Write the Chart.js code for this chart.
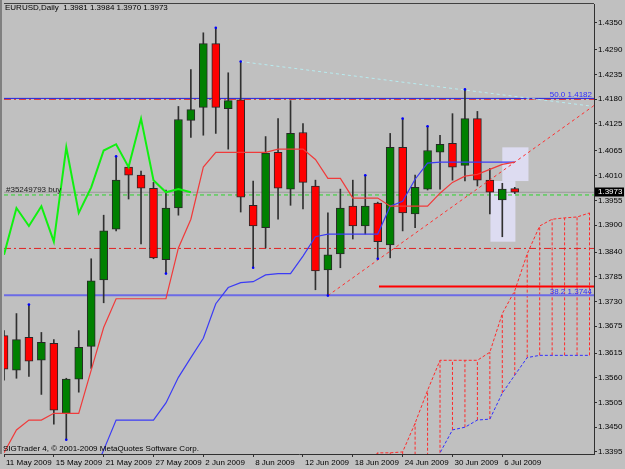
<!DOCTYPE html>
<html><head><meta charset="utf-8">
<script src="https://cdn.jsdelivr.net/npm/chart.js@4.4.0/dist/chart.umd.min.js"></script>
<style>html,body{margin:0;padding:0;background:#c0c0c0;overflow:hidden}#wrap{width:625px;height:469px;position:relative}canvas{display:block}</style>
</head><body><div id="wrap"><canvas id="c" width="625" height="469"></canvas></div>
<script>
// ---------------- DATA ----------------
const dateLabels = ['11 May 2009','15 May 2009','21 May 2009','27 May 2009','2 Jun 2009','8 Jun 2009','12 Jun 2009','18 Jun 2009','24 Jun 2009','30 Jun 2009','6 Jul 2009'];
const dateTickIndex = [0,4,8,12,16,20,24,28,32,36,40];
const priceTicks = [1.4350,1.4290,1.4235,1.4180,1.4125,1.4065,1.4010,1.3955,1.3900,1.3840,1.3785,1.3730,1.3675,1.3615,1.3560,1.3505,1.3450,1.3395];

const open  = [1.3654,1.3577,1.3650,1.3599,1.3637,1.3481,1.3557,1.3630,1.3778,1.3891,1.4029,1.4011,1.3982,1.3823,1.3938,1.4133,1.4162,1.4304,1.4159,1.4179,1.3944,1.3894,1.4062,1.3980,1.4106,1.3987,1.3800,1.3836,1.3942,1.3898,1.3949,1.3856,1.4073,1.3925,1.3980,1.4062,1.4082,1.4033,1.4137,1.4000,1.3956,1.3981];
const high  = [1.3665,1.3703,1.3723,1.3661,1.3645,1.3559,1.3665,1.3825,1.3922,1.4053,1.4030,1.4020,1.3995,1.3978,1.4164,1.4246,1.4328,1.4339,1.4239,1.4264,1.3998,1.4097,1.4137,1.4177,1.4126,1.4000,1.3927,1.3980,1.4000,1.4011,1.3951,1.4104,1.4137,1.4011,1.4120,1.4100,1.4148,1.4202,1.4153,1.4026,1.3993,1.3984];
const low   = [1.3555,1.3559,1.3563,1.3523,1.3457,1.3422,1.3528,1.3581,1.3727,1.3887,1.3958,1.3858,1.3825,1.3792,1.3922,1.4095,1.4100,1.4104,1.4069,1.3929,1.3805,1.3849,1.3913,1.3944,1.3936,1.3756,1.3743,1.3805,1.3869,1.3880,1.3825,1.3827,1.3887,1.3894,1.3978,1.3980,1.4000,1.3998,1.3987,1.3925,1.3874,1.3970];
const close = [1.3579,1.3645,1.3597,1.3639,1.3488,1.3557,1.3628,1.3776,1.3887,1.4000,1.4011,1.3982,1.3827,1.3938,1.4135,1.4157,1.4304,1.4162,1.4177,1.3962,1.3898,1.4060,1.3982,1.4104,1.3995,1.3798,1.3834,1.3938,1.3898,1.3942,1.3863,1.4073,1.3927,1.3984,1.4066,1.4080,1.4029,1.4137,1.4000,1.3973,1.3980,1.3973];

// Ichimoku lines
const tenkan = [1.3393,1.3444,1.3466,1.3466,1.3481,1.3481,1.3481,1.3577,1.3672,1.3736,1.3736,1.3736,1.3736,1.3736,1.3849,1.3913,1.4029,1.4062,1.4062,1.4062,1.4062,1.4062,1.4069,1.4069,1.4069,1.4046,1.4004,1.4004,1.3960,1.3960,1.3960,1.3942,1.3942,1.3942,1.3942,1.3971,1.3995,1.4009,1.4013,1.4024,1.4035,1.4040];
const kijunStart = 7;
const kijun = [1.3337,1.3399,1.3466,1.3466,1.3466,1.3466,1.3504,1.3561,1.3605,1.3648,1.3725,1.3761,1.3772,1.3774,1.3789,1.3792,1.3792,1.3831,1.3874,1.3880,1.3880,1.3880,1.3880,1.3880,1.3942,1.3953,1.4002,1.4038,1.4040,1.4040,1.4040,1.4040,1.4040,1.4040,1.4040];
const chikou = [1.3834,1.3938,1.3898,1.3942,1.3863,1.4073,1.3927,1.3984,1.4066,1.4080,1.4029,1.4137,1.4000,1.3973,1.3980,1.3973];
const kumoStart = 29;
const spanUpper = [1.3366,1.3393,1.3393,1.3395,1.3459,1.3532,1.3599,1.3599,1.3599,1.3599,1.3617,1.3703,1.3754,1.3836,1.3898,1.3913,1.3916,1.3918,1.3927];
const spanLower = [1.3220,1.3244,1.3266,1.3289,1.3311,1.3342,1.3393,1.3444,1.3450,1.3466,1.3468,1.3526,1.3566,1.3605,1.3610,1.3610,1.3610,1.3610,1.3610];

const fractalUp = [2,9,17,19,29,32,34,37];
const fractalDown = [5,13,20,26,30];

// horizontal levels
const fib50 = 1.4182, fib382 = 1.3744;
const redDashLevels = [1.4180, 1.3848];
const orderPrice = 1.3967, bidPrice = 1.3973;
const redLineLevel = 1.3763, redLineStart = 30.1;
// trend lines [x0,y0,x1,y1]
const trendRed = [26, 1.3743, 47.36, 1.4166];
const trendCyan = [19, 1.4264, 47.36, 1.4164];
// rectangles [x0,x1,yTop,yBottom]
const rects = [[39.05,41.05,1.3998,1.3863],[40.0,42.1,1.4073,1.3998]];

// ---------------- CHART ----------------
const FONT = "'Liberation Sans',Arial,sans-serif";
Chart.defaults.font.family = FONT;
Chart.defaults.font.size = 8;
Chart.defaults.color = '#000';

const X_MIN = 0, X_MAX = 47.36, Y_MIN = 1.33904, Y_MAX = 1.43921;
const idx = open.map((_, i) => i);
const hline = (y, x0 = X_MIN, x1 = X_MAX) => [{x:x0, y}, {x:x1, y}];

const hatch = [];
spanUpper.forEach((u, k) => {
  const i = kumoStart + k;
  hatch.push({x:i, y:spanLower[k]}, {x:i, y:u}, {x:i, y:null});
});

const datasets = [
  {type:'line', label:'fractals', order:0, showLine:false, pointRadius:1.3, pointBackgroundColor:'#0000ff', pointBorderWidth:0,
   data: fractalUp.map(i => ({x:i, y:high[i]})).concat(fractalDown.map(i => ({x:i, y:low[i]})))},
  {type:'line', label:'chikou', order:1, borderColor:'#10f010', borderWidth:2,
   data: chikou.map((v,i) => ({x:i, y:v}))},
  {type:'line', label:'tenkan', order:2, borderColor:'#f03a3a', borderWidth:1.2,
   data: tenkan.map((v,i) => ({x:i, y:v}))},
  {type:'line', label:'kijun', order:3, borderColor:'#3b3bf5', borderWidth:1.2,
   data: kijun.map((v,k) => ({x:kijunStart+k, y:v}))},
  {type:'line', label:'trendRed', order:4, borderColor:'#ff3030', borderWidth:1, borderDash:[3,3],
   data: [{x:trendRed[0], y:trendRed[1]}, {x:trendRed[2], y:trendRed[3]}]},
  {type:'line', label:'trendCyan', order:4, borderColor:'#b8ecf0', borderWidth:1, borderDash:[3,3],
   data: [{x:trendCyan[0], y:trendCyan[1]}, {x:trendCyan[2], y:trendCyan[3]}]},
  {type:'bar', label:'bodies', order:10, grouped:false, barThickness:8, borderWidth:1, borderSkipped:false,
   borderColor:'#282828', backgroundColor: idx.map(i => close[i] >= open[i] ? '#008000' : '#ff0000'),
   data: idx.map(i => ({x:i, y:[open[i], close[i]]}))},
  {type:'bar', label:'wicks', order:11, grouped:false, barThickness:1, borderWidth:0,
   backgroundColor:'#303030', data: idx.map(i => ({x:i, y:[low[i], high[i]]}))},
  {type:'line', label:'redLine', order:12, borderColor:'#ff0000', borderWidth:2, data: hline(redLineLevel, redLineStart)},
  {type:'line', label:'fib382', order:20, borderColor:'#6b6be6', borderWidth:2, data: hline(fib382)},
  {type:'line', label:'fib50', order:20, borderColor:'#2020e0', borderWidth:1, data: hline(fib50)},
  {type:'line', label:'redDash1', order:21, borderColor:'#e02020', borderWidth:1, borderDash:[7,3,2,3], data: hline(redDashLevels[0])},
  {type:'line', label:'redDash2', order:21, borderColor:'#e02020', borderWidth:1, borderDash:[7,3,2,3], data: hline(redDashLevels[1])},
  {type:'line', label:'bid', order:22, borderColor:'#9a9a9a', borderWidth:1, data: hline(bidPrice)},
  {type:'line', label:'order', order:22, borderColor:'#2ad42a', borderWidth:1, borderDash:[4,3], data: hline(orderPrice)},
  {type:'line', label:'spanUpper', order:25, borderColor:'#ff2a2a', borderWidth:1, borderDash:[3,2],
   data: spanUpper.map((v,k) => ({x:kumoStart+k, y:v}))},
  {type:'line', label:'spanLower', order:25, borderColor:'#3030ff', borderWidth:1, borderDash:[3,2],
   data: spanLower.map((v,k) => ({x:kumoStart+k, y:v}))},
  {type:'line', label:'hatch', order:26, borderColor:'#ff2a2a', borderWidth:1, borderDash:[3,2], spanGaps:false, data: hatch}
];

const overlay = {
  id:'overlay',
  beforeDraw(chart) {
    const ctx = chart.ctx;
    ctx.save(); ctx.fillStyle = '#c0c0c0'; ctx.fillRect(0,0,chart.width,chart.height); ctx.restore();
  },
  beforeDatasetsDraw(chart) {
    const {ctx, scales:{x, y}} = chart;
    ctx.save();
    ctx.fillStyle = '#dddcf1';
    rects.forEach(r => {
      const x0 = x.getPixelForValue(r[0]), x1 = x.getPixelForValue(r[1]);
      const y0 = y.getPixelForValue(r[2]), y1 = y.getPixelForValue(r[3]);
      ctx.fillRect(x0, y0, x1-x0, y1-y0);
    });
    ctx.restore();
  },
  afterDatasetsDraw(chart) {
    const {ctx, scales:{x, y}, chartArea:a} = chart;
    ctx.save();
    ctx.font = '8px ' + FONT;
    ctx.textBaseline = 'middle';
    ctx.textAlign = 'left';
    ctx.fillStyle = '#000';
    ctx.fillText('EURUSD,Daily  ' + [open[41],high[41],low[41],close[41]].map(v=>v.toFixed(4)).join(' '), 5, 8);
    ctx.fillText('SIGTrader 4, \u00a9 2001-2009 MetaQuotes Software Corp.', 3, 449);
    ctx.fillStyle = '#202020';
    ctx.fillText('#35249793 buy', 6, y.getPixelForValue(orderPrice) - 5);
    ctx.fillStyle = '#2c2cff';
    ctx.textAlign = 'right';
    ctx.textBaseline = 'alphabetic';
    ctx.fillText('50.0 ' + fib50.toFixed(4), a.right - 2, y.getPixelForValue(fib50) - 1);
    ctx.fillText('38.2 ' + fib382.toFixed(4), a.right - 2, y.getPixelForValue(fib382) - 1);
    // price box
    const py = y.getPixelForValue(bidPrice);
    ctx.fillStyle = '#000';
    ctx.fillRect(a.right + 1, Math.round(py) - 4.5, 29, 9);
    ctx.fillStyle = '#fff';
    ctx.textAlign = 'left'; ctx.textBaseline = 'middle';
    ctx.fillText(bidPrice.toFixed(4), a.right + 4, py);
    // frame
    ctx.strokeStyle = '#808080'; ctx.lineWidth = 2;
    ctx.beginPath(); ctx.moveTo(1, 0); ctx.lineTo(1, a.bottom); ctx.stroke();
    ctx.strokeStyle = '#404040'; ctx.lineWidth = 1;
    ctx.beginPath(); ctx.moveTo(a.left, a.top - 0.5); ctx.lineTo(a.right, a.top - 0.5); ctx.stroke();
    ctx.restore();
  }
};

new Chart(document.getElementById('c'), {
  type:'line',
  data:{datasets},
  plugins:[overlay],
  options:{
    responsive:false, animation:false, devicePixelRatio:1, events:[],
    layout:{padding:{left:2, top:2, right:0, bottom:0}},
    elements:{point:{radius:0}, line:{tension:0, fill:false}},
    plugins:{legend:{display:false}, tooltip:{enabled:false}},
    scales:{
      x:{type:'linear', position:'bottom', min:X_MIN, max:X_MAX, offset:false,
         grid:{drawOnChartArea:false, drawTicks:true, tickLength:3, color:'#303030', offset:false},
         border:{display:true, color:'#303030'},
         afterBuildTicks(s){ s.ticks = dateTickIndex.map(v => ({value:v})); },
         afterFit(s){ s.height = 15; s.paddingLeft = 0; s.paddingRight = 0; },
         ticks:{autoSkip:false, maxRotation:0, minRotation:0, align:'start', labelOffset:2, padding:1,
                callback:(v) => dateLabels[dateTickIndex.indexOf(v)] ?? ''}},
      y:{type:'linear', position:'right', min:Y_MIN, max:Y_MAX, beginAtZero:false,
         grid:{drawOnChartArea:false, drawTicks:true, tickLength:3, color:'#303030'},
         border:{display:true, color:'#303030'},
         afterBuildTicks(s){ s.ticks = priceTicks.map(v => ({value:v})); },
         afterFit(s){ s.width = 31; s.paddingTop = 0; s.paddingBottom = 0; },
         ticks:{padding:1, autoSkip:false, callback:(v) => Number(v).toFixed(4)}}
    }
  }
});
</script></body></html>
